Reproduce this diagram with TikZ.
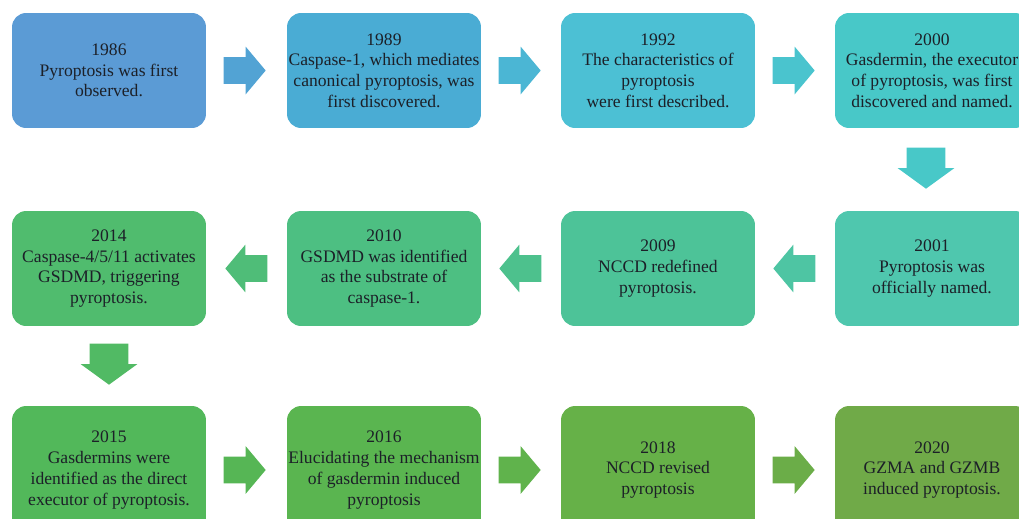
\documentclass[tikz,border=0pt]{standalone}
\usepackage{fontspec}
\setmainfont{Liberation Serif}
\usetikzlibrary{shapes,shapes.arrows}
\usetikzlibrary{calc}
\definecolor{c1986}{RGB}{91,155,213}
\definecolor{c1989}{RGB}{74,172,212}
\definecolor{c1992}{RGB}{76,192,212}
\definecolor{c2000}{RGB}{72,200,200}
\definecolor{c2001}{RGB}{79,199,174}
\definecolor{c2009}{RGB}{77,195,152}
\definecolor{c2010}{RGB}{77,191,130}
\definecolor{c2014}{RGB}{80,188,110}
\definecolor{c2015}{RGB}{82,184,90}
\definecolor{c2016}{RGB}{90,181,80}
\definecolor{c2018}{RGB}{102,177,72}
\definecolor{c2020}{RGB}{112,170,72}
\definecolor{txt}{RGB}{28,32,40}
\tikzstyle{event}=[rectangle,rounded corners=8pt,draw=none,minimum width=3.88cm,minimum height=2.3cm,inner sep=0pt,align=center,text=txt,font=\fontsize{10}{11.8}\selectfont]
\tikzstyle{blockarrow}=[single arrow,draw=none,minimum height=0.84cm,inner xsep=0pt,inner ysep=0.26cm,single arrow head extend=0.21cm,single arrow tip angle=100,anchor=tail]
\tikzstyle{downarrow}=[single arrow,draw=none,minimum height=0.82cm,inner ysep=0pt,inner xsep=0.38cm,single arrow head extend=0.18cm,single arrow tip angle=108,shape border rotate=270,anchor=tail]

\begin{document}
\begin{tikzpicture}[x=0.02cm,y=-0.02cm]
    \useasboundingbox (0,0) rectangle (1019,518);

    % first row
    \foreach \pos/ \name/ \txt in {{(109,70.5)/1986/{1986\\Pyroptosis was first\\observed.}},
        {(384,70.5)/1989/{1989\\Caspase-1, which mediates\\canonical pyroptosis, was\\first discovered.}},
        {(658,70.5)/1992/{1992\\The characteristics of\\pyroptosis\\were first described.}},
        {(932,70.5)/2000/{2000\\Gasdermin, the executor\\of pyroptosis, was first\\discovered and named.}}}
        \node[event,fill=c\name] (y\name) at \pos {\txt};

    % second row
    \foreach \pos/ \name/ \txt in {{(932,268.5)/2001/{2001\\Pyroptosis was\\officially named.}},
        {(658,268.5)/2009/{2009\\NCCD redefined\\pyroptosis.}},
        {(384,268.5)/2010/{2010\\GSDMD was identified\\as the substrate of\\caspase-1.}},
        {(109,268.5)/2014/{2014\\Caspase-4/5/11 activates\\GSDMD, triggering\\pyroptosis.}}}
        \node[event,fill=c\name] (y\name) at \pos {\txt};

    % third row
    \foreach \pos/ \name/ \txt in {{(109,470)/2015/{2015\\Gasdermins were\\identified as the direct\\executor of pyroptosis.}},
        {(384,470)/2016/{2016\\Elucidating the mechanism\\of gasdermin induced\\pyroptosis}},
        {(658,470)/2018/{2018\\NCCD revised\\pyroptosis}},
        {(932,470)/2020/{2020\\GZMA and GZMB\\induced pyroptosis.}}}
        \node[event,fill=c\name,minimum height=2.56cm] (y\name) at \pos {\txt};

    % arrows to the right
    \foreach \source/ \col in {y1986/{c1986!50!c1989}, y1989/{c1989!50!c1992}, y1992/{c1992!50!c2000},
        y2015/{c2015!50!c2016}, y2016/{c2016!50!c2018}, y2018/{c2018!50!c2020}}
        \node[blockarrow,fill=\col] at ($(\source.east)+(17,0)$) {};

    % arrows to the left
    \foreach \source/ \col in {y2001/{c2001!50!c2009}, y2009/{c2009!50!c2010}, y2010/{c2010!50!c2014}}
        \node[blockarrow,fill=\col,shape border rotate=180] at ($(\source.west)+(-19,0)$) {};

    % arrows down
    \node[downarrow,fill=c2000] at ($(y2000.south)+(-6,19)$) {};
    \node[downarrow,fill=c2014!50!c2015] at ($(y2014.south)+(0,17)$) {};

\end{tikzpicture}
\end{document}
